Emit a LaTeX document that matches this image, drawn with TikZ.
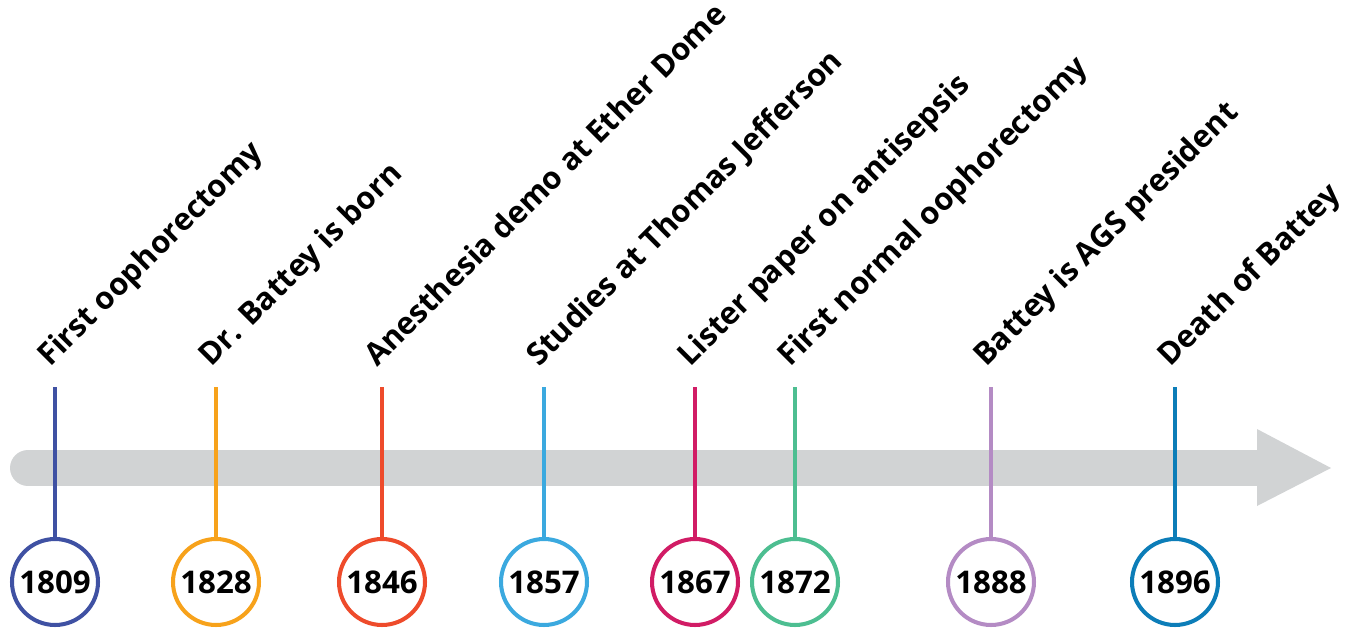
\documentclass[tikz,border=0pt]{standalone}
\usepackage{fontspec}
\setmainfont{Open Sans}
\usepackage{tikz}
\usetikzlibrary{positioning}
\definecolor{barcol}{HTML}{D1D3D4}
\definecolor{c1809}{HTML}{3F51A3}
\definecolor{c1828}{HTML}{F7A21B}
\definecolor{c1846}{HTML}{EE4B2B}
\definecolor{c1857}{HTML}{3BA9DF}
\definecolor{c1867}{HTML}{D11C65}
\definecolor{c1872}{HTML}{4DBE91}
\definecolor{c1888}{HTML}{B48BC4}
\definecolor{c1896}{HTML}{0C7DB8}

\begin{document}
\begin{tikzpicture}[x=0.02cm,y=-0.02cm]
    \tikzset{year/.style = {shape=circle,draw,fill=white,line width=2.3pt,minimum size=1.72cm,inner sep=0pt,font=\fontsize{17.8}{20}\selectfont\bfseries}}
    \tikzset{event/.style = {rotate=45,anchor=base west,inner sep=0pt,font=\fontsize{17.6}{20}\selectfont\bfseries}}
    \tikzset{stem/.style = {line width=1.8pt}}
    \useasboundingbox (0,0) rectangle (1347,629);
    % time bar
    \draw[barcol,line width=0.72cm,line cap=round] (28,468) -- (1262,468);
    \fill[barcol] (1257,429) -- (1331,468) -- (1257,506) -- cycle;
    % years
    \node[year,draw=c1809] (y1809) at (55,582) {1809};
    \node[year,draw=c1828] (y1828) at (216,582) {1828};
    \node[year,draw=c1846] (y1846) at (382,582) {1846};
    \node[year,draw=c1857] (y1857) at (544,582) {1857};
    \node[year,draw=c1867] (y1867) at (695,582) {1867};
    \node[year,draw=c1872] (y1872) at (795,582) {1872};
    \node[year,draw=c1888] (y1888) at (991,582) {1888};
    \node[year,draw=c1896] (y1896) at (1175,582) {1896};
    % stem tops
    \coordinate (t1809) at (55,387);
    \coordinate (t1828) at (216,387);
    \coordinate (t1846) at (382,387);
    \coordinate (t1857) at (544,387);
    \coordinate (t1867) at (695,387);
    \coordinate (t1872) at (795,387);
    \coordinate (t1888) at (991,387);
    \coordinate (t1896) at (1175,387);
    % events
    \node[event] (e1809) at (50,368) {First oophorectomy};
    \node[event] (e1828) at (211,368) {Dr. Battey is born};
    \node[event] (e1846) at (377,368) {Anesthesia demo at Ether Dome};
    \node[event] (e1857) at (539,368) {Studies at Thomas Jefferson};
    \node[event] (e1867) at (690,368) {Lister paper on antisepsis};
    \node[event] (e1872) at (790,368) {First normal oophorectomy};
    \node[event] (e1888) at (986,368) {Battey is AGS president};
    \node[event] (e1896) at (1170,368) {Death of Battey};
    % stems
    \draw[stem,c1809] (t1809) -- (y1809);
    \draw[stem,c1828] (t1828) -- (y1828);
    \draw[stem,c1846] (t1846) -- (y1846);
    \draw[stem,c1857] (t1857) -- (y1857);
    \draw[stem,c1867] (t1867) -- (y1867);
    \draw[stem,c1872] (t1872) -- (y1872);
    \draw[stem,c1888] (t1888) -- (y1888);
    \draw[stem,c1896] (t1896) -- (y1896);
\end{tikzpicture}
\end{document}
